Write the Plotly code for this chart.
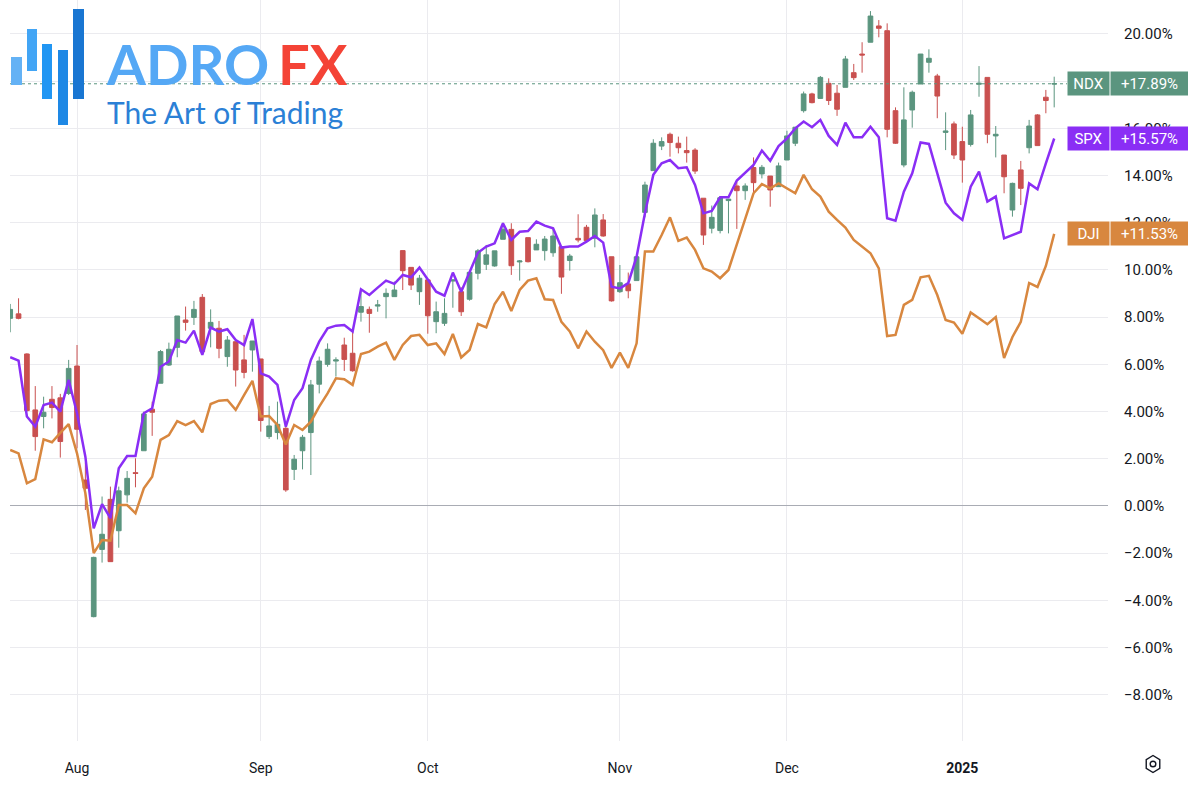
import math
import plotly.graph_objects as go

# ---------------- data ----------------
jul24 = [22, 23, 24, 25, 26, 29, 30, 31]
aug24 = [1, 2, 5, 6, 7, 8, 9, 12, 13, 14, 15, 16, 19, 20, 21, 22, 23, 26, 27, 28, 29, 30]
sep24 = [3, 4, 5, 6, 9, 10, 11, 12, 13, 16, 17, 18, 19, 20, 23, 24, 25, 26, 27, 30]
oct24 = [1, 2, 3, 4, 7, 8, 9, 10, 11, 14, 15, 16, 17, 18, 21, 22, 23, 24, 25, 28, 29, 30, 31]
nov24 = [1, 4, 5, 6, 7, 8, 11, 12, 13, 14, 15, 18, 19, 20, 21, 22, 25, 26, 27, 29]
dec24 = [2, 3, 4, 5, 6, 9, 10, 11, 12, 13, 16, 17, 18, 19, 20, 23, 24, 26, 27, 30, 31]
jan25 = [2, 3, 6, 7, 8, 10, 13, 14, 15, 16, 17, 21]

dates = ([f"2024-07-{d:02d}" for d in jul24] + [f"2024-08-{d:02d}" for d in aug24] +
         [f"2024-09-{d:02d}" for d in sep24] + [f"2024-10-{d:02d}" for d in oct24] +
         [f"2024-11-{d:02d}" for d in nov24] + [f"2024-12-{d:02d}" for d in dec24] +
         [f"2025-01-{d:02d}" for d in jan25])

ndx_open = [7.95, 8.14, 6.44, 4.07, 3.79, 4.52, 4.58, 4.77, 5.93, 1.10,
            -4.69, -1.84, 0.28, -1.05, 0.47, 1.41, 2.34, 4.10, 5.20, 5.97,
            6.72, 7.88, 7.99, 8.84, 7.53, 7.53, 6.33, 6.96, 6.19, 6.61,
            6.23, 2.94, 3.11, 3.29, 1.55, 2.34, 3.11, 5.16, 6.00, 6.14,
            6.82, 6.47, 8.21, 8.33, 8.47, 8.87, 8.87, 10.82, 10.11, 9.08,
            9.58, 7.81, 7.74, 9.53, 9.08, 8.76, 9.86, 10.24, 10.17, 11.30,
            11.72, 10.34, 11.37, 10.85, 10.82, 10.73, 10.99, 10.40, 11.34, 11.81,
            11.34, 12.12, 10.56, 9.08, 9.41, 9.55, 12.44, 14.21, 15.25, 15.75,
            15.37, 15.06, 15.08, 13.04, 11.77, 11.67, 12.94, 13.56, 13.36, 14.34,
            14.07, 13.98, 13.53, 14.66, 15.37, 16.75, 17.46, 17.27, 17.91, 17.49,
            17.74, 18.36, 19.15, 19.65, 20.34, 20.14, 16.75, 14.45, 16.78, 17.88,
            18.80, 18.22, 15.83, 16.19, 15.44, 15.32, 17.87, 18.16, 15.68, 14.87,
            12.54, 14.24, 15.18, 16.57, 17.32, 17.88]
ndx_high = [8.56, 8.80, 6.47, 5.08, 4.63, 5.08, 4.75, 6.19, 6.82, 1.84,
            -2.15, 0.40, 0.82, 0.82, 1.48, 2.02, 4.00, 4.42, 6.61, 6.92,
            8.05, 8.45, 8.69, 8.98, 8.33, 7.84, 7.20, 6.96, 7.25, 6.99,
            6.23, 4.24, 4.42, 3.35, 2.16, 3.01, 5.34, 6.33, 6.89, 6.30,
            7.13, 7.39, 9.15, 8.45, 8.73, 9.22, 9.51, 10.82, 10.11, 9.79,
            9.58, 8.66, 8.80, 9.60, 9.27, 9.90, 10.89, 11.06, 10.81, 12.00,
            11.98, 10.42, 11.37, 11.30, 11.44, 11.77, 10.99, 10.68, 12.36, 11.91,
            12.61, 12.37, 10.56, 10.21, 9.89, 10.56, 13.74, 15.54, 15.62, 15.82,
            15.65, 15.65, 15.16, 13.04, 12.73, 13.11, 13.00, 13.74, 13.67, 14.77,
            14.45, 13.98, 14.55, 15.90, 16.05, 17.56, 17.51, 18.22, 18.12, 17.84,
            19.07, 18.73, 19.65, 20.97, 20.59, 20.45, 16.89, 17.74, 17.60, 19.15,
            19.35, 18.31, 16.68, 16.29, 16.07, 16.78, 18.64, 18.16, 16.10, 14.87,
            13.70, 14.62, 16.36, 16.60, 17.63, 18.19]
ndx_low = [7.36, 7.91, 4.00, 2.34, 3.29, 3.71, 2.05, 4.70, 2.44, -0.17,
           -4.72, -2.40, -2.36, -1.77, 0.14, 0.79, 2.34, 2.97, 5.20, 5.93,
           6.30, 7.43, 7.67, 6.50, 6.72, 6.26, 5.90, 5.06, 5.41, 5.69,
           3.15, 2.84, 2.82, 0.60, 1.10, 1.55, 1.31, 4.77, 5.90, 5.48,
           5.72, 5.69, 7.81, 7.34, 8.23, 7.95, 8.87, 9.15, 9.15, 8.52,
           7.30, 7.32, 7.63, 8.40, 8.05, 8.70, 9.60, 10.00, 10.14, 11.30,
           9.79, 9.55, 10.32, 10.85, 10.40, 10.56, 8.99, 9.97, 11.17, 11.23,
           10.96, 11.41, 8.66, 9.03, 8.80, 9.55, 12.23, 14.21, 15.08, 14.80,
           14.94, 14.55, 14.07, 11.06, 11.55, 11.55, 11.55, 11.74, 12.97, 13.25,
           13.88, 12.68, 13.53, 14.66, 15.25, 16.67, 17.06, 17.25, 16.99, 16.53,
           17.74, 18.05, 18.36, 19.65, 19.86, 15.62, 15.34, 14.35, 16.03, 17.88,
           18.36, 16.43, 15.08, 14.70, 13.70, 15.23, 17.34, 15.37, 14.77, 13.25,
           12.26, 12.75, 14.94, 15.27, 16.64, 16.89]
ndx_close = [8.33, 7.95, 4.04, 2.94, 3.97, 4.17, 2.73, 5.83, 3.25, 0.75,
             -2.18, -1.20, -2.36, 0.64, 1.17, 1.38, 3.90, 3.97, 6.54, 6.64,
             8.05, 7.78, 8.33, 6.54, 7.78, 6.68, 7.03, 5.76, 5.66, 6.99,
             3.62, 3.39, 3.46, 0.68, 1.98, 2.91, 5.13, 6.14, 6.64, 6.19,
             6.21, 5.73, 8.45, 8.16, 8.52, 9.01, 9.15, 9.97, 9.36, 9.65,
             8.06, 8.23, 8.16, 9.58, 8.23, 9.90, 10.81, 10.64, 10.81, 11.72,
             10.18, 10.38, 10.35, 11.09, 11.31, 11.44, 9.70, 10.59, 11.27, 11.24,
             12.33, 11.44, 8.69, 9.46, 9.12, 10.56, 13.60, 15.37, 15.44, 15.40,
             15.18, 14.97, 14.19, 11.48, 12.23, 13.06, 13.00, 13.36, 13.56, 13.70,
             14.35, 13.39, 14.41, 15.68, 16.05, 17.46, 17.09, 18.16, 17.18, 16.81,
             18.94, 18.15, 19.11, 20.76, 20.24, 15.96, 15.37, 16.36, 17.53, 19.15,
             18.97, 17.37, 15.89, 14.87, 14.66, 16.57, 17.91, 15.75, 15.75, 13.95,
             13.67, 13.46, 16.10, 15.27, 17.18, 17.89]

spx = [6.30, 6.16, 3.79, 3.36, 4.28, 4.38, 4.00, 5.34, 3.93, 2.09,
       -0.95, 0.08, -0.52, 1.60, 2.12, 2.12, 3.93, 4.14, 5.90, 6.12,
       7.03, 6.92, 7.43, 6.40, 7.56, 7.39, 7.49, 7.03, 6.82, 7.92,
       5.62, 5.48, 5.13, 3.36, 4.49, 4.99, 6.19, 6.96, 7.53, 7.64,
       7.67, 7.39, 9.18, 8.94, 9.25, 9.55, 9.41, 9.79, 9.69, 10.10,
       9.60, 9.08, 8.91, 9.89, 9.08, 9.93, 10.73, 10.99, 11.13, 11.98,
       11.27, 11.62, 11.65, 12.05, 11.88, 11.77, 10.95, 10.99, 10.99, 11.20,
       11.44, 11.16, 9.29, 9.22, 9.44, 10.56, 12.40, 14.03, 14.52, 14.66,
       14.31, 14.35, 13.60, 12.40, 12.50, 13.08, 13.08, 13.79, 14.10, 14.45,
       15.06, 14.63, 15.25, 15.58, 16.00, 16.29, 16.05, 16.36, 15.68, 15.30,
       16.24, 15.62, 15.62, 16.07, 15.62, 12.19, 12.09, 13.32, 14.10, 15.40,
       15.34, 14.10, 12.85, 12.40, 12.12, 13.53, 14.17, 12.90, 13.11, 11.34,
       11.48, 11.62, 13.67, 13.42, 14.52, 15.57]

dji = [2.37, 2.23, 0.96, 1.14, 2.82, 2.70, 3.10, 3.47, 2.23, 0.54,
       -2.00, -1.44, -1.47, 0.04, 0.04, -0.31, 0.75, 1.24, 2.80, 3.00,
       3.60, 3.43, 3.60, 3.12, 4.32, 4.46, 4.49, 4.07, 4.70, 5.30,
       3.79, 3.81, 3.43, 2.60, 3.43, 3.22, 3.57, 4.21, 4.77, 5.41,
       5.37, 5.13, 6.44, 6.54, 6.75, 6.92, 6.19, 6.82, 7.20, 7.25,
       6.82, 6.89, 6.44, 7.29, 6.29, 6.61, 7.71, 7.57, 8.56, 9.08,
       8.26, 9.15, 9.55, 9.65, 8.76, 8.73, 7.80, 7.40, 6.68, 7.39,
       6.96, 6.60, 5.85, 6.50, 5.85, 6.89, 10.78, 10.78, 11.48, 12.23,
       11.23, 11.37, 10.85, 10.07, 9.93, 9.65, 10.00, 11.06, 12.12, 13.25,
       13.64, 13.46, 13.67, 13.46, 13.25, 14.03, 13.42, 13.11, 12.47, 12.12,
       11.80, 11.27, 10.99, 10.71, 10.07, 7.20, 7.25, 8.52, 8.73, 9.69,
       9.75, 8.94, 7.88, 7.77, 7.30, 8.20, 7.95, 7.70, 8.00, 6.27,
       7.16, 7.80, 9.45, 9.28, 10.17, 11.53]

month_names = ["Jan", "Feb", "Mar", "Apr", "May", "Jun", "Jul", "Aug", "Sep", "Oct", "Nov", "Dec"]

# ---------------- style / layout ----------------
W, H = 1188, 786
ML, MR, MT, MB = 10, 80, 0, 45
PW, PH = W - ML - MR, H - MT - MB
FONT = "Roboto"
UP, DN = "#5b957f", "#c9504f"
PURPLE, ORANGE = "#8a2ef5", "#d8873f"
GRID = "#ebebef"
TXT = "#131722"


def px(x):
    return (x - ML) / PW


def py(y):
    return 1 - (y - MT) / PH


# month ticks: first trading day of each new month
tickvals, ticktext = [], []
for i in range(1, len(dates)):
    if dates[i][5:7] != dates[i - 1][5:7]:
        tickvals.append(dates[i])
        m = int(dates[i][5:7])
        ticktext.append(f"<b>{dates[i][:4]}</b>" if m == 1 else month_names[m - 1])

fig = go.Figure()
fig.add_trace(go.Scatter(x=dates, y=dji, mode="lines", line=dict(color=ORANGE, width=2.5),
                         showlegend=False, hoverinfo="skip"))
fig.add_trace(go.Scatter(x=dates, y=spx, mode="lines", line=dict(color=PURPLE, width=2.5),
                         showlegend=False, hoverinfo="skip"))
fig.add_trace(go.Candlestick(
    x=dates, open=ndx_open, high=ndx_high, low=ndx_low, close=ndx_close,
    increasing=dict(line=dict(color=UP, width=1), fillcolor=UP),
    decreasing=dict(line=dict(color=DN, width=1), fillcolor=DN),
    whiskerwidth=0, showlegend=False, hoverinfo="skip"))

n = len(dates)
span = PW * (n - 1) / (1054.2 - 10.2)
x0 = -(10.2 - ML) * span / PW
fig.update_layout(
    width=W, height=H, margin=dict(l=ML, r=MR, t=MT, b=MB),
    paper_bgcolor="white", plot_bgcolor="white",
    font=dict(family=FONT, color=TXT, size=14),
    boxgap=0.2,
    showlegend=False,
    xaxis=dict(type="category", range=[x0, x0 + span], rangeslider=dict(visible=False),
               tickmode="array", tickvals=tickvals, ticktext=ticktext,
               showgrid=True, gridcolor=GRID, gridwidth=1, zeroline=False, showline=False,
               ticks="outside", ticklen=14, tickcolor="rgba(0,0,0,0)",
               tickfont=dict(size=14, color=TXT, family=FONT)),
    yaxis=dict(side="right", range=[-9.96, 21.44], dtick=2, tick0=0,
               tickformat=".2f", ticksuffix="%",
               showgrid=True, gridcolor=GRID, gridwidth=1,
               zeroline=True, zerolinecolor="#a9acb4", zerolinewidth=1, showline=False,
               ticks="outside", ticklen=12, tickcolor="rgba(0,0,0,0)",
               tickfont=dict(size=15, color=TXT, family=FONT)),
)

shapes = []
# dotted line at last NDX close
shapes.append(dict(type="line", xref="paper", yref="y", x0=0, x1=px(1067),
                   y0=ndx_close[-1], y1=ndx_close[-1],
                   line=dict(color=UP, width=1, dash="dot"), layer="above"))

# logo bars
logo_bars = [(11, 22, 57, 85, "#64b2f5"), (27, 37, 29, 71, "#42a5f5"),
             (42, 52, 44, 99, "#2196f3"), (58, 68, 50, 125, "#1e88e5"),
             (73, 84, 9, 99, "#1976d2")]
for (a, b, c, d, col) in logo_bars:
    shapes.append(dict(type="rect", xref="paper", yref="paper",
                       x0=px(a), x1=px(b), y0=py(d), y1=py(c),
                       fillcolor=col, line=dict(width=0), layer="above"))

# settings hexagon icon
cx, cy, r = 1153, 764, 8.5
pts = []
for k in range(6):
    ang = math.radians(90 + 60 * k)
    pts.append((px(cx + r * 0.92 * math.cos(ang)), py(cy - r * math.sin(ang))))
path = "M " + " L ".join(f"{a:.5f},{b:.5f}" for a, b in pts) + " Z"
shapes.append(dict(type="path", xref="paper", yref="paper", path=path,
                   line=dict(color=TXT, width=1.4)))
shapes.append(dict(type="circle", xref="paper", yref="paper",
                   x0=px(cx - 2.8), x1=px(cx + 2.8), y0=py(cy + 2.8), y1=py(cy - 2.8),
                   line=dict(color=TXT, width=1.4)))

annotations = []
# logo texts
annotations.append(dict(xref="paper", yref="paper", x=px(104), y=py(63), xanchor="left", yanchor="middle",
                        text="<b>ADRO</b>", showarrow=False,
                        font=dict(family="Lato", size=56, color="#55a8f5")))
annotations.append(dict(xref="paper", yref="paper", x=px(276), y=py(63), xanchor="left", yanchor="middle",
                        text="<b>FX</b>", showarrow=False,
                        font=dict(family="Lato", size=56, color="#f44336")))
annotations.append(dict(xref="paper", yref="paper", x=px(105), y=py(112), xanchor="left", yanchor="middle",
                        text="The Art of Trading", showarrow=False,
                        font=dict(family="Lato", size=30, color="#2b80d6")))

# last value labels
for name, val, col in [("NDX", ndx_close[-1], UP), ("SPX", spx[-1], PURPLE), ("DJI", dji[-1], ORANGE)]:
    annotations.append(dict(xref="paper", yref="y", x=px(1067), y=val, xanchor="left", yanchor="middle",
                            text=name, showarrow=False, bgcolor=col, width=39, height=21, borderpad=1,
                            align="center", font=dict(family=FONT, size=15, color="white")))
    annotations.append(dict(xref="paper", yref="y", x=px(1110), y=val, xanchor="left", yanchor="middle",
                            text=f"+{val:.2f}%", showarrow=False, bgcolor=col, width=75, height=21,
                            borderpad=1, align="center", font=dict(family=FONT, size=15, color="white")))

fig.update_layout(shapes=shapes, annotations=annotations)
fig.write_html("out.html")
